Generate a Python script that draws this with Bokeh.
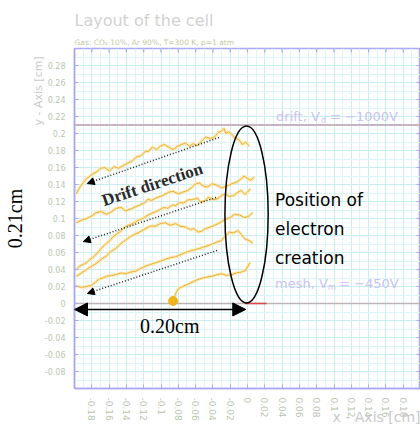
import math
from bokeh.plotting import figure
from bokeh.models import Range1d, FixedTicker, LinearAxis, Label, Arrow, NormalHead, Title
from bokeh.embed import file_html
from bokeh.resources import INLINE

# ---------------- data ----------------
x_ticks = [-0.18, -0.16, -0.14, -0.12, -0.1, -0.08, -0.06, -0.04, -0.02, 0.0,
           0.02, 0.04, 0.06, 0.08, 0.1, 0.12, 0.14, 0.16, 0.18]
x_tick_labels = ["-0.18", "-0.16", "-0.14", "-0.12", "-0.1", "-0.08", "-0.06", "-0.04", "-0.02", "0",
                 "0.02", "0.04", "0.06", "0.08", "0.1", "0.12", "0.14", "0.16", "0.18"]
y_ticks = [-0.08, -0.06, -0.04, -0.02, 0.0, 0.02, 0.04, 0.06, 0.08, 0.1,
           0.12, 0.14, 0.16, 0.18, 0.2, 0.22, 0.24, 0.26, 0.28]
y_tick_labels = ["-0.08", "-0.06", "-0.04", "-0.02", "0", "0.02", "0.04", "0.06", "0.08", "0.1",
                 "0.12", "0.14", "0.16", "0.18", "0.2", "0.22", "0.24", "0.26", "0.28"]

drift_y = 0.21
mesh_y = 0.0

track1_x = [0.002, -0.002, -0.006, -0.010, -0.015, -0.018, -0.022, -0.025, -0.027, -0.030, -0.034, -0.038,
            -0.043, -0.048, -0.053, -0.058, -0.063, -0.067, -0.072, -0.076, -0.081, -0.086, -0.091, -0.096,
            -0.101, -0.105, -0.110, -0.114, -0.118, -0.123, -0.129, -0.134, -0.139, -0.144, -0.149, -0.154,
            -0.160, -0.165, -0.170, -0.174, -0.178, -0.182, -0.186, -0.190, -0.193, -0.196, -0.198]
track1_y = [0.185, 0.190, 0.187, 0.193, 0.195, 0.199, 0.202, 0.200, 0.206, 0.203, 0.201, 0.196,
            0.194, 0.196, 0.191, 0.186, 0.188, 0.185, 0.189, 0.187, 0.185, 0.181, 0.184, 0.187,
            0.185, 0.181, 0.184, 0.179, 0.179, 0.174, 0.172, 0.167, 0.165, 0.162, 0.159, 0.161,
            0.156, 0.160, 0.159, 0.155, 0.153, 0.150, 0.147, 0.142, 0.138, 0.133, 0.129]

track2_x = [0.008, 0.004, 0.000, -0.004, -0.007, -0.012, -0.018, -0.024, -0.030, -0.035, -0.041, -0.046,
            -0.051, -0.056, -0.061, -0.065, -0.069, -0.075, -0.080, -0.086, -0.091, -0.096, -0.101, -0.106,
            -0.111, -0.115, -0.118, -0.124, -0.129, -0.135, -0.141, -0.146, -0.152, -0.157, -0.163, -0.169,
            -0.175, -0.180, -0.186, -0.192, -0.198]
track2_y = [0.149, 0.145, 0.147, 0.150, 0.147, 0.143, 0.141, 0.138, 0.136, 0.139, 0.141, 0.137,
            0.138, 0.142, 0.140, 0.136, 0.133, 0.131, 0.129, 0.132, 0.131, 0.128, 0.126, 0.124,
            0.121, 0.123, 0.119, 0.116, 0.114, 0.111, 0.109, 0.113, 0.112, 0.108, 0.105, 0.108,
            0.107, 0.103, 0.100, 0.098, 0.095]

track3_x = [0.003, 0.000, -0.003, -0.007, -0.011, -0.016, -0.021, -0.026, -0.030, -0.035, -0.040, -0.045,
            -0.049, -0.054, -0.058, -0.064, -0.069, -0.074, -0.078, -0.083, -0.087, -0.092, -0.097, -0.102,
            -0.106, -0.111, -0.115, -0.121, -0.126, -0.131, -0.135, -0.140, -0.144, -0.148, -0.152, -0.156,
            -0.159, -0.163, -0.167, -0.170, -0.173, -0.176, -0.179, -0.183, -0.186, -0.190, -0.194, -0.198]
track3_y = [0.135, 0.131, 0.128, 0.133, 0.131, 0.127, 0.126, 0.129, 0.127, 0.123, 0.122, 0.125,
            0.121, 0.119, 0.124, 0.122, 0.122, 0.118, 0.119, 0.115, 0.116, 0.112, 0.113, 0.110,
            0.108, 0.106, 0.104, 0.100, 0.098, 0.095, 0.093, 0.091, 0.088, 0.084, 0.081, 0.078,
            0.074, 0.071, 0.067, 0.064, 0.060, 0.057, 0.054, 0.051, 0.048, 0.046, 0.044, 0.040]

track4_x = [0.006, 0.002, -0.003, -0.009, -0.015, -0.020, -0.026, -0.032, -0.038, -0.043, -0.049, -0.053,
            -0.057, -0.062, -0.066, -0.072, -0.078, -0.083, -0.089, -0.095, -0.101, -0.106, -0.112, -0.118,
            -0.123, -0.129, -0.135, -0.139, -0.143, -0.148, -0.152, -0.158, -0.163, -0.169, -0.175, -0.180,
            -0.186, -0.192, -0.198]
track4_y = [0.107, 0.103, 0.101, 0.104, 0.105, 0.101, 0.099, 0.095, 0.092, 0.090, 0.088, 0.085,
            0.084, 0.088, 0.087, 0.090, 0.091, 0.094, 0.092, 0.095, 0.094, 0.091, 0.091, 0.088,
            0.085, 0.082, 0.079, 0.076, 0.073, 0.069, 0.065, 0.061, 0.056, 0.052, 0.047, 0.044,
            0.040, 0.036, 0.032]

track5_x = [0.006, 0.002, -0.003, -0.007, -0.011, -0.016, -0.021, -0.026, -0.030, -0.036, -0.043, -0.049,
            -0.055, -0.062, -0.069, -0.076, -0.083, -0.089, -0.095, -0.100, -0.106, -0.112, -0.118, -0.124,
            -0.129, -0.135, -0.141, -0.146, -0.152, -0.157, -0.163, -0.167, -0.171, -0.176, -0.181, -0.186,
            -0.192, -0.196, -0.199]
track5_y = [0.071, 0.074, 0.076, 0.081, 0.086, 0.083, 0.084, 0.079, 0.074, 0.072, 0.069, 0.067,
            0.065, 0.063, 0.061, 0.058, 0.055, 0.054, 0.052, 0.050, 0.048, 0.046, 0.044, 0.041,
            0.038, 0.037, 0.035, 0.036, 0.034, 0.033, 0.032, 0.030, 0.029, 0.025, 0.021, 0.020,
            0.019, 0.020, 0.021]

track6_x = [0.003, 0.000, -0.002, -0.007, -0.013, -0.018, -0.024, -0.030, -0.035, -0.041, -0.047, -0.052,
            -0.058, -0.064, -0.070, -0.075, -0.079, -0.082, -0.084, -0.086]
track6_y = [0.048, 0.043, 0.039, 0.037, 0.036, 0.034, 0.033, 0.035, 0.034, 0.032, 0.031, 0.030,
            0.028, 0.025, 0.022, 0.020, 0.018, 0.014, 0.009, 0.004]

blob_x = [-0.086]
blob_y = [0.003]

tracks = [(track1_x, track1_y), (track2_x, track2_y), (track3_x, track3_y),
          (track4_x, track4_y), (track5_x, track5_y), (track6_x, track6_y)]

# ---------------- figure ----------------
AXC = "#A9A9F5"
LBL = "#B9C6B0"
NB = "\u00a0"

p = figure(width=420, height=428, x_range=Range1d(-0.2, 0.2), y_range=Range1d(-0.1, 0.3),
           output_backend="svg", toolbar_location=None, title=None,
           min_border_left=68, min_border_right=0, min_border_top=48, min_border_bottom=40)
p.outline_line_color = AXC
p.outline_line_width = 1.5
p.background_fill_color = "white"
p.border_fill_color = "white"

minor_x = [round(-0.2 + 0.01 * i, 3) for i in range(41)]
minor_y = [round(-0.1 + 0.01 * i, 3) for i in range(41)]

p.xaxis.ticker = FixedTicker(ticks=x_ticks, minor_ticks=minor_x)
p.yaxis.ticker = FixedTicker(ticks=y_ticks, minor_ticks=minor_y)
p.xaxis.major_label_overrides = dict(zip(x_ticks, x_tick_labels))
p.yaxis.major_label_overrides = dict(zip(y_ticks, y_tick_labels))

for ax in (p.xaxis[0], p.yaxis[0]):
    ax.axis_line_color = AXC
    ax.axis_line_width = 1.5
    ax.major_tick_line_color = AXC
    ax.major_tick_in = 4
    ax.major_tick_out = 0
    ax.minor_tick_line_color = None
    ax.major_label_text_color = LBL
    ax.major_label_text_font = "DejaVu Sans"
    ax.axis_label_text_font = "DejaVu Sans"
    ax.axis_label_text_font_style = "normal"
    ax.axis_label_text_color = "#C9C9C9"
p.yaxis.major_label_text_font_size = "8px"
p.xaxis.major_label_text_font_size = "9px"
p.yaxis.major_label_standoff = 5
p.xaxis.major_label_standoff = 5
p.xaxis.major_label_orientation = -math.pi / 2

# axis titles (shifted along the axis with non-breaking spaces)
p.yaxis.axis_label = NB * 73 + "y - Axis [cm]"
p.yaxis.axis_label_text_font_size = "11px"
p.yaxis.axis_label_standoff = -3
p.xaxis.axis_label = NB * 58 + "x - Axis [cm]"
p.xaxis.axis_label_text_font_size = "14px"
p.xaxis.axis_label_standoff = -15

# extra left axis carrying the "0.21cm" dimension text
dim_axis = LinearAxis(ticker=FixedTicker(ticks=[]), axis_line_color=None,
                      major_tick_out=0, major_tick_in=0, minor_tick_out=0, minor_tick_in=0,
                      major_label_standoff=0, axis_label="0.21cm",
                      axis_label_text_font="Liberation Serif", axis_label_text_font_size="20px",
                      axis_label_text_font_style="normal", axis_label_text_color="black",
                      axis_label_standoff=3)
p.add_layout(dim_axis, "left")

# titles (first added sits nearest the frame)
p.add_layout(Title(text="Gas: CO\u2082 10%, Ar 90%, T=300 K, p=1 atm", align="left",
                   text_font="DejaVu Sans", text_font_size="7.5px", text_font_style="normal",
                   text_color="#C4C9A4", standoff=3), "above")
p.add_layout(Title(text="Layout of the cell", align="left",
                   text_font="DejaVu Sans", text_font_size="16px", text_font_style="normal",
                   text_color="#D2D2D2", standoff=9), "above")

p.xgrid.grid_line_color = "#C9EEF1"
p.ygrid.grid_line_color = "#C9EEF1"
p.xgrid.minor_grid_line_color = "#DDF5F6"
p.ygrid.minor_grid_line_color = "#DDF5F6"

# inward ticks on the top and right frame edges
p.segment(x0=x_ticks, y0=[0.3] * len(x_ticks), x1=x_ticks, y1=[0.2953] * len(x_ticks),
          line_color=AXC, line_width=1.2)
p.segment(x0=[0.2] * len(y_ticks), y0=y_ticks, x1=[0.1955] * len(y_ticks), y1=y_ticks,
          line_color=AXC, line_width=1.2)

# electrodes
p.line([-0.2, 0.2], [drift_y, drift_y], line_color="#C9B3C2", line_width=2)
p.line([-0.2, 0.2], [mesh_y, mesh_y], line_color="#BDB3B8", line_width=1.5)
p.line([-0.003, 0.022], [mesh_y, mesh_y], line_color="#E04848", line_width=1.5)

# tracks
for tx, ty in tracks:
    n = min(len(tx), len(ty))
    p.line(tx[:n], ty[:n], line_color="#FAE6AA", line_width=3.2, line_alpha=0.85)
for tx, ty in tracks:
    n = min(len(tx), len(ty))
    p.line(tx[:n], ty[:n], line_color="#EBB338", line_width=1.0)
p.scatter(blob_x, blob_y, size=9, color="#F2B41C")

# ellipse of electron creation
p.ellipse(x=[-0.0011], y=[0.1047], width=[0.050], height=[0.208],
          fill_color=None, line_color="black", line_width=1.5)

# dotted drift arrows
for xs, ys, xe, ye in [(-0.033, 0.1953, -0.1852, 0.1412),
                       (-0.0364, 0.1247, -0.1898, 0.0729),
                       (-0.0352, 0.0624, -0.1852, 0.0118)]:
    p.add_layout(Arrow(end=NormalHead(size=7, fill_color="black", line_color="black"),
                       x_start=xs, y_start=ys, x_end=xe, y_end=ye,
                       line_dash="1 2", line_width=1.5, line_color="#222222"))

# 0.20 cm double arrow
p.add_layout(Arrow(start=NormalHead(size=13, fill_color="black", line_color="black"),
                   end=NormalHead(size=13, fill_color="black", line_color="black"),
                   x_start=-0.002, y_start=-0.007, x_end=-0.2, y_end=-0.007,
                   line_width=1.5, line_color="black"))

def lab(text, x, y, size, color, font="DejaVu Sans", align="left", baseline="middle",
        angle=0.0, style="normal", xo=0, yo=0):
    p.add_layout(Label(x=x, y=y, text=text, text_font=font, text_font_size=size,
                       text_color=color, text_align=align, text_baseline=baseline,
                       angle=angle, text_font_style=style, x_offset=xo, y_offset=yo))

# electrode labels
DC = "#C9C2F2"
lab("drift, V", 0.033, 0.220, "13px", DC)
lab("d", 0.033, 0.220, "8px", DC, xo=45, yo=-4)
lab("= \u22121000V", 0.033, 0.220, "13px", DC, xo=54)
lab("mesh, V", 0.0318, 0.0235, "13px", DC)
lab("m", 0.0318, 0.0235, "8px", DC, xo=53, yo=-4)
lab("= \u2212450V", 0.0318, 0.0235, "13px", DC, xo=64)

# annotations
lab("Drift direction", -0.110, 0.140, "17px", "#2A2A2A", font="Liberation Serif",
    align="center", angle=0.32, style="bold")
lab("Position of", 0.0318, 0.1212, "17px", "black")
lab("electron", 0.0318, 0.0882, "17px", "black")
lab("creation", 0.0318, 0.0541, "17px", "black")
lab("0.20cm", -0.0898, -0.0259, "20px", "black", font="Liberation Serif", align="center")

open("out.html", "w").write(file_html(p, INLINE))
